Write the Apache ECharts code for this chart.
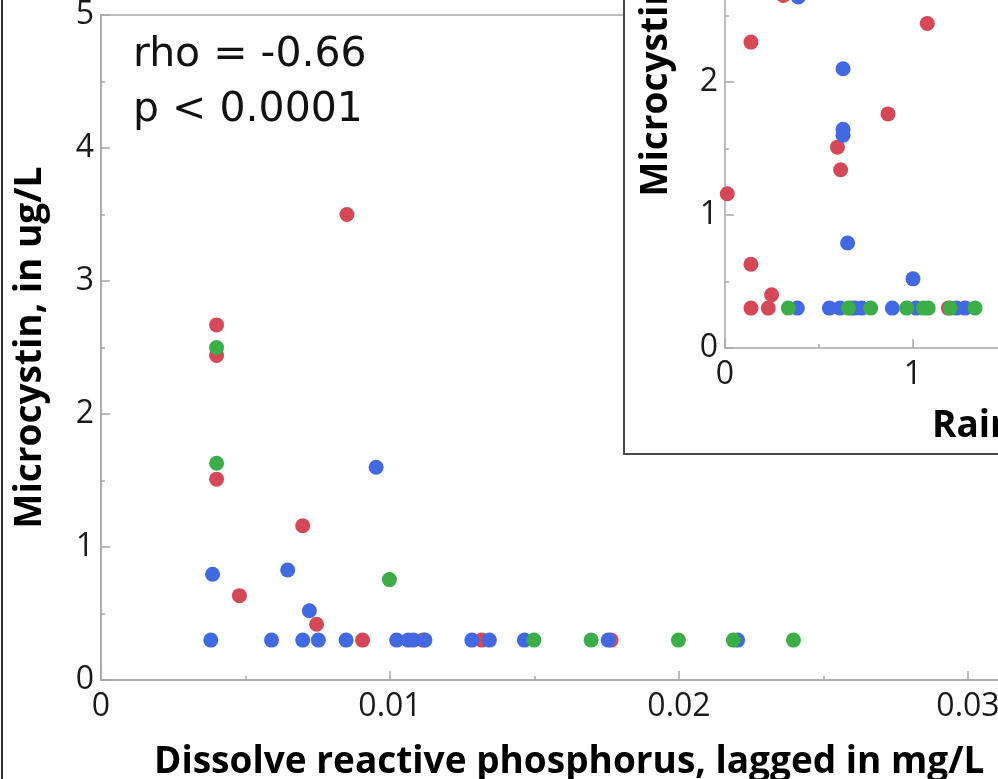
<!DOCTYPE html>
<html>
<head>
<meta charset="utf-8">
<script src="https://cdn.jsdelivr.net/npm/echarts@6/dist/echarts.min.js"></script>
<style>
html,body{margin:0;padding:0;background:#fff;}
#chart{width:998px;height:779px;}
</style>
</head>
<body>
<div id="chart"></div>
<script>
// ---- Main panel: microcystin vs lagged dissolved reactive phosphorus ----
const mainRed = [[0.0040,2.67],[0.0040,2.44],[0.0040,1.51],[0.00851,3.50],[0.00698,1.16],[0.00479,0.634],[0.00746,0.419],[0.00905,0.30],[0.01115,0.30],[0.01317,0.30],[0.01765,0.30]];
const mainBlue = [[0.00386,0.795],[0.00646,0.827],[0.00952,1.60],[0.00721,0.521],[0.0038,0.30],[0.0059,0.30],[0.00698,0.30],[0.00752,0.30],[0.00848,0.30],[0.01023,0.30],[0.01063,0.30],[0.01081,0.30],[0.01121,0.30],[0.01283,0.30],[0.01344,0.30],[0.01465,0.30],[0.01755,0.30],[0.02203,0.30]];
const mainGreen = [[0.0040,2.50],[0.0040,1.63],[0.00998,0.755],[0.01498,0.30],[0.01696,0.30],[0.01998,0.30],[0.02188,0.30],[0.02396,0.30]];

// ---- Inset panel: microcystin vs rainfall ----
const insetRed = [[0.31,2.65],[0.138,2.30],[1.076,2.44],[0.598,1.51],[0.615,1.34],[0.867,1.76],[0.012,1.16],[0.138,0.63],[0.248,0.40],[0.138,0.30],[0.23,0.30],[0.67,0.30],[1.188,0.30]];
const insetBlue = [[0.39,2.64],[0.628,2.10],[0.628,1.644],[0.628,1.60],[0.652,0.79],[1.0,0.52],[0.385,0.30],[0.555,0.30],[0.612,0.30],[0.69,0.30],[0.727,0.30],[0.89,0.30],[1.016,0.30],[1.232,0.30],[1.277,0.30]];
const insetGreen = [[0.337,0.30],[0.656,0.30],[0.775,0.30],[0.966,0.30],[1.055,0.30],[1.081,0.30],[1.197,0.30],[1.33,0.30]];

const statLines = ['rho = -0.66', 'p < 0.0001'];
const mainXTitle = 'Dissolve reactive phosphorus, lagged in mg/L';
const yTitle = 'Microcystin, in ug/L';
const insetXTitle = 'Rainfall, lagged in inches';

const RED = '#d44857', BLUE = '#4169e1', GREEN = '#3bae48';
const AXIS_GRAY = '#a8a8a8';
const labelStyle = {fontFamily:'Open Sans', fontSize:32, color:'#1a1a1a'};
const titleStyle = {fontFamily:'Open Sans', fontSize:37, fontWeight:'bold', color:'#000'};

function axisCommon(extra) {
  return Object.assign({
    type:'value',
    axisLine:{show:true, lineStyle:{color:AXIS_GRAY, width:1.5}},
    axisTick:{show:true, inside:true, length:9, lineStyle:{color:AXIS_GRAY, width:1.5}},
    minorTick:{show:true, splitNumber:2, length:4, lineStyle:{color:AXIS_GRAY, width:1.5}},
    splitLine:{show:false},
    minorSplitLine:{show:false}
  }, extra);
}

const chart = echarts.init(document.getElementById('chart'), null, {renderer:'canvas'});
chart.setOption({
  animation:false,
  backgroundColor:'#fff',
  grid:[
    {left:101, top:15, right:-114.5, bottom:99, containLabel:false, outerBoundsMode:'none', show:true, borderColor:AXIS_GRAY, borderWidth:1.5, backgroundColor:'transparent', z:0},
    {left:725, top:-317, right:-291, bottom:431, containLabel:false, outerBoundsMode:'none', show:false, z:10}
  ],
  xAxis:[
    axisCommon({gridIndex:0, min:0, max:0.035, interval:0.01, z:1,
      axisLabel:Object.assign({margin:11, formatter:v => (v===0?'0':String(+v.toFixed(3)))}, labelStyle),
      name:mainXTitle, nameLocation:'middle', nameGap:64,
      nameTextStyle:Object.assign({padding:[0,75,0,0]}, titleStyle)}),
    axisCommon({gridIndex:1, min:0, max:3, interval:1, z:10,
      axisLabel:Object.assign({margin:11}, labelStyle)})
  ],
  yAxis:[
    axisCommon({gridIndex:0, min:0, max:5, interval:1, z:1,
      axisLabel:Object.assign({margin:7, padding:[10,0,0,0]}, labelStyle),
      name:yTitle, nameLocation:'middle', nameGap:52, nameTextStyle:titleStyle}),
    axisCommon({gridIndex:1, min:0, max:5, interval:1, z:10,
      axisLabel:Object.assign({margin:7, padding:[4,0,0,0]}, labelStyle),
      name:yTitle, nameLocation:'middle', nameGap:50, nameTextStyle:titleStyle})
  ],
  series:[
    {type:'scatter', name:'Red group', xAxisIndex:0, yAxisIndex:0, data:mainRed, symbolSize:15, itemStyle:{color:RED, opacity:1}, z:2},
    {type:'scatter', name:'Blue group', xAxisIndex:0, yAxisIndex:0, data:mainBlue, symbolSize:15, itemStyle:{color:BLUE, opacity:1}, z:2},
    {type:'scatter', name:'Green group', xAxisIndex:0, yAxisIndex:0, data:mainGreen, symbolSize:15, itemStyle:{color:GREEN, opacity:1}, z:2},
    {type:'scatter', name:'Red group', xAxisIndex:1, yAxisIndex:1, data:insetRed, symbolSize:15, itemStyle:{color:RED, opacity:1}, z:11},
    {type:'scatter', name:'Blue group', xAxisIndex:1, yAxisIndex:1, data:insetBlue, symbolSize:15, itemStyle:{color:BLUE, opacity:1}, z:11},
    {type:'scatter', name:'Green group', xAxisIndex:1, yAxisIndex:1, data:insetGreen, symbolSize:15, itemStyle:{color:GREEN, opacity:1}, z:11}
  ],
  graphic:[
    {type:'rect', z:5, silent:true, shape:{x:624, y:-10, width:420, height:464}, style:{fill:'#fff', stroke:'#4a4a4a', lineWidth:2}},
    {type:'line', z:50, silent:true, shape:{x1:2, y1:0, x2:2, y2:779}, style:{stroke:'#333', lineWidth:2}},
    {type:'text', z:20, x:133, y:55, style:{text:statLines[0], font:'41px "DejaVu Sans"', fill:'#111', textVerticalAlign:'middle', textAlign:'left'}},
    {type:'text', z:20, x:133, y:110, style:{text:statLines[1], font:'41px "DejaVu Sans"', fill:'#111', textVerticalAlign:'middle', textAlign:'left'}},
    {type:'text', z:20, x:932, y:426, style:{text:insetXTitle, font:'bold 37px "Open Sans"', fill:'#000', textVerticalAlign:'middle', textAlign:'left'}}
  ]
});
</script>
</body>
</html>
